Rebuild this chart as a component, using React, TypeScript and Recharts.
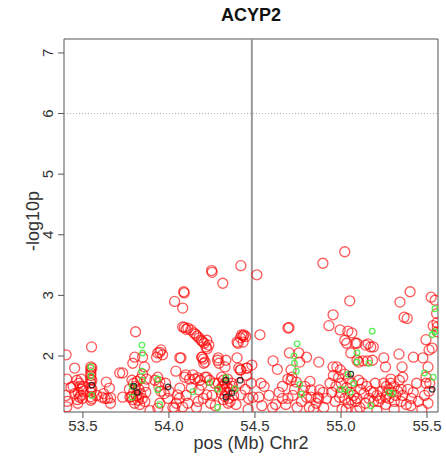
import React from 'react';
import { ScatterChart, Scatter, XAxis, YAxis, ReferenceLine, ReferenceArea } from 'recharts';

// Chr2 window around ACYP2, positions in Mb, values are -log10(p)
const xTicks = [53.5, 54.0, 54.5, 55.0, 55.5];
const yTicks = [2, 3, 4, 5, 6, 7];
const xDomain: [number, number] = [53.39, 55.564];
const yDomain: [number, number] = [1.076, 7.23];
const genePos = 54.482;
const threshold = 6;

const redPoints = [
  [54.418, 3.49], [54.511, 3.34], [54.248, 3.41], [54.251, 3.38], [54.313, 3.2], [54.086, 3.06], [54.089, 3.04],
  [54.033, 2.9], [54.08, 2.79], [55.022, 3.72], [54.895, 3.53], [55.051, 2.91], [55.402, 3.06], [55.343, 2.89],
  [55.367, 2.64], [55.385, 2.62], [55.524, 2.97], [55.547, 2.92], [55.558, 2.55], [55.56, 2.48], [54.692, 2.46],
  [54.698, 2.47], [54.954, 2.68], [54.93, 2.5], [54.995, 2.43], [55.04, 2.41], [55.063, 2.38], [55.033, 2.21],
  [55.093, 2.21], [55.158, 2.2], [55.188, 2.15], [54.529, 2.35], [54.423, 2.35], [54.446, 2.32],
  [54.08, 2.48], [54.11, 2.46], [54.128, 2.43], [54.145, 2.38], [54.163, 2.33], [54.175, 2.3], [54.187, 2.26],
  [54.205, 2.21], [54.216, 2.15], [54.222, 2.12], [54.1, 2.44], [54.155, 2.36], [54.195, 2.24], [54.09, 2.47],
  [54.396, 2.23], [54.416, 2.3], [54.431, 2.33], [53.953, 2.1], [53.935, 2.05], [53.963, 2.02], [53.947, 2.06],
  [54.07, 1.97], [54.19, 1.98], [54.202, 1.88], [54.2, 1.95], [54.286, 1.97], [54.291, 1.88], [54.396, 1.97],
  [54.406, 1.8], [54.418, 1.77], [54.453, 1.8], [54.482, 1.85], [53.55, 2.15], [53.806, 2.4], [53.402, 2.02],
  [53.452, 1.8], [53.546, 1.82], [53.546, 1.77], [53.546, 1.72], [53.546, 1.68], [53.546, 1.62], [53.546, 1.55],
  [53.546, 1.48], [53.546, 1.4], [53.546, 1.33], [53.546, 1.27], [53.552, 1.8], [53.552, 1.6], [53.552, 1.45],
  [53.552, 1.3], [53.465, 1.6], [53.477, 1.55], [53.483, 1.5], [53.492, 1.45], [53.472, 1.4], [53.487, 1.35],
  [53.497, 1.3], [53.467, 1.28], [53.502, 1.42], [53.442, 1.5], [53.452, 1.38], [53.48, 1.32], [53.406, 1.62],
  [53.402, 1.35], [53.406, 1.16], [53.636, 1.57], [53.654, 1.47], [53.61, 1.32], [53.643, 1.3], [53.661, 1.31],
  [53.628, 1.3], [53.714, 1.72], [53.731, 1.72], [53.731, 1.32], [53.773, 1.32], [53.79, 1.88], [53.801, 1.98],
  [53.847, 1.98], [53.858, 1.82], [53.847, 1.7], [53.785, 1.6], [53.795, 1.55], [53.805, 1.5], [53.815, 1.58],
  [53.825, 1.45], [53.795, 1.4], [53.81, 1.35], [53.825, 1.32], [53.835, 1.38], [53.78, 1.33], [53.79, 1.28],
  [53.82, 1.27], [53.845, 1.3], [53.855, 1.5], [53.865, 1.4], [53.835, 1.62], [53.928, 1.98], [53.935, 1.65],
  [53.947, 1.57], [53.941, 1.5], [53.918, 1.6], [54.04, 1.75], [54.063, 1.97], [54.098, 1.69], [54.139, 1.69],
  [54.169, 1.64], [54.22, 1.65], [54.175, 1.44], [54.22, 1.36], [54.063, 1.47], [54.051, 1.36], [54.033, 1.14],
  [54.08, 1.16], [53.935, 1.14], [54.22, 2.26], [54.232, 2.18], [54.193, 1.98], [54.21, 1.9], [54.283, 1.93],
  [54.331, 1.93], [54.326, 1.82], [54.402, 2.21], [54.431, 2.23], [54.436, 2.35], [54.414, 1.77], [54.453, 1.8],
  [54.306, 1.65], [54.316, 1.6], [54.326, 1.55], [54.311, 1.5], [54.321, 1.45], [54.336, 1.4], [54.306, 1.38],
  [54.326, 1.33], [54.346, 1.3], [54.316, 1.28], [54.336, 1.5], [54.356, 1.45], [54.296, 1.45], [54.286, 1.55],
  [54.366, 1.55], [54.376, 1.35], [54.356, 1.25], [54.488, 1.32], [53.953, 1.42], [53.973, 1.38], [53.993, 1.3],
  [54.092, 1.65], [54.151, 1.62], [54.12, 1.62], [54.181, 1.6], [54.21, 1.65], [54.236, 1.6], [54.266, 1.55],
  [53.947, 1.22], [54.023, 1.15], [54.043, 1.22], [54.11, 1.22], [54.17, 1.25], [54.2, 1.3], [54.241, 1.22],
  [54.344, 1.22], [54.419, 1.36], [54.463, 1.3], [54.478, 1.55], [54.443, 1.45], [54.535, 1.55], [54.553, 1.5],
  [54.523, 1.32], [54.605, 1.92], [54.63, 1.78], [54.7, 2.05], [54.755, 2.05], [54.8, 1.98], [54.871, 1.9],
  [54.76, 1.9], [54.71, 1.77], [54.715, 1.65], [54.71, 1.6], [54.692, 1.62], [54.74, 1.57], [54.78, 1.43],
  [54.8, 1.32], [54.826, 1.32], [54.866, 1.32], [54.826, 1.44], [54.876, 1.44], [54.856, 1.22], [54.816, 1.15],
  [54.745, 1.15], [54.692, 1.3], [54.72, 1.35], [54.77, 1.25], [54.66, 1.3], [54.64, 1.4], [54.62, 1.2],
  [54.582, 1.35], [54.602, 1.15], [54.954, 1.82], [54.976, 1.82], [54.996, 1.77], [54.956, 1.68], [54.986, 1.65],
  [54.936, 1.55], [54.971, 1.5], [54.946, 1.4], [54.991, 1.32], [55.001, 1.55], [55.006, 1.12], [54.916, 1.3],
  [54.966, 1.25], [54.896, 1.4], [55.022, 2.26], [55.083, 2.21], [55.143, 2.18], [55.173, 2.15], [55.057, 2.05],
  [55.093, 1.93], [55.103, 1.9], [55.128, 1.92], [55.154, 1.92], [55.183, 1.93], [55.249, 1.97], [55.337, 2.03],
  [55.421, 1.98], [55.355, 1.82], [55.359, 1.65], [55.259, 1.82], [55.022, 1.7], [55.043, 1.62], [55.063, 1.55],
  [55.033, 1.48], [55.053, 1.4], [55.073, 1.35], [55.023, 1.3], [55.093, 1.3], [55.113, 1.45], [55.133, 1.38],
  [55.163, 1.3], [55.083, 1.25], [55.143, 1.22], [55.043, 1.22], [55.173, 1.42], [55.123, 1.55], [55.103, 1.6],
  [55.249, 1.55], [55.264, 1.5], [55.279, 1.45], [55.294, 1.4], [55.269, 1.38], [55.309, 1.5], [55.289, 1.55],
  [55.259, 1.32], [55.319, 1.35], [55.329, 1.42], [55.239, 1.42], [55.279, 1.3], [55.209, 1.35], [55.219, 1.25],
  [55.359, 1.35], [55.339, 1.6], [55.349, 1.25], [55.389, 1.45], [55.409, 1.3], [55.199, 1.55], [55.189, 1.4],
  [55.093, 1.1], [55.209, 1.1], [55.309, 1.12], [55.406, 1.18], [55.494, 2.27], [55.512, 2.1], [55.53, 2.13],
  [55.476, 1.97], [55.506, 1.82], [55.494, 1.65], [55.494, 1.55], [55.516, 1.55], [55.512, 1.42], [55.506, 1.22],
  [55.536, 2.5], [55.556, 2.7], [55.559, 2.4], [55.486, 1.35],
  [53.41, 1.25], [53.43, 1.48], [53.47, 1.22], [53.5, 1.5], [53.49, 1.62], [53.58, 1.35], [53.62, 1.38],
  [53.66, 1.22], [53.77, 1.45], [53.8, 1.22], [53.83, 1.2], [53.86, 1.25], [53.89, 1.1], [53.87, 1.62],
  [53.98, 1.55], [54.0, 1.42], [54.06, 1.3], [54.1, 1.35], [54.13, 1.48], [54.16, 1.15], [54.19, 1.52],
  [54.25, 1.35], [54.27, 1.18], [54.34, 1.62], [54.37, 1.5], [54.39, 1.2], [54.41, 1.55], [54.45, 1.68],
  [54.46, 1.12], [54.54, 1.18], [54.66, 1.5], [54.68, 1.2], [54.73, 1.45], [54.79, 1.5], [54.82, 1.58],
  [54.84, 1.12], [54.87, 1.3], [54.9, 1.15], [55.0, 1.4], [55.03, 1.12], [55.06, 1.28], [55.11, 1.15],
  [55.15, 1.5], [55.19, 1.25], [55.23, 1.3], [55.26, 1.2], [55.29, 1.62], [55.31, 1.25], [55.35, 1.45],
  [55.38, 1.2], [55.42, 1.4], [55.45, 1.25], [55.44, 1.55], [55.47, 1.12],
].map(([pos, p]) => ({ pos, p }));

const greenPoints = [
  [53.546, 1.82], [53.546, 1.67], [53.552, 1.35], [53.843, 2.18], [53.847, 2.05], [53.843, 1.75], [53.845, 1.6],
  [53.786, 1.5], [53.786, 1.32], [53.935, 1.62], [53.947, 1.2], [54.139, 1.41], [53.935, 1.44], [54.236, 1.56],
  [54.331, 1.64], [54.283, 1.45], [54.384, 1.46], [54.283, 1.15], [54.745, 2.2], [54.727, 2.0], [54.73, 1.88],
  [54.74, 1.75], [54.76, 1.53], [54.77, 1.37], [55.04, 1.7], [55.023, 1.45], [55.053, 1.4], [55.073, 1.55],
  [55.182, 2.41], [55.093, 2.05], [55.093, 1.9], [55.163, 1.88], [55.546, 2.78], [55.546, 2.4], [55.53, 2.35],
  [55.536, 1.65], [55.486, 1.72], [55.173, 1.18], [55.279, 1.4], [55.299, 1.38], [54.996, 1.45],
].map(([pos, p]) => ({ pos, p }));

const blackPoints = [
  [53.552, 1.52], [53.796, 1.5], [53.816, 1.4], [53.995, 1.49], [54.331, 1.6], [54.366, 1.39], [54.331, 1.32],
  [54.414, 1.6], [55.057, 1.7], [55.53, 1.45],
].map(([pos, p]) => ({ pos, p }));

const font = '"Liberation Sans", Arial, Helvetica, sans-serif';

const XTick = (props: any) => {
  const { x, y, payload } = props;
  return (
    <text x={x} y={y} dy="0.71em" textAnchor="middle" fontSize={15} fontFamily={font} fill="#333">
      {payload.value.toFixed(1)}
    </text>
  );
};

const YTick = (props: any) => {
  const { x, y, payload } = props;
  return (
    <text x={x - 3} y={y} textAnchor="middle" fontSize={15} fontFamily={font} fill="#333"
      transform={`rotate(-90, ${x - 3}, ${y})`}>
      {payload.value}
    </text>
  );
};

const ring = (r: number, stroke: string, opacity: number) => (props: any) =>
  <circle cx={props.cx} cy={props.cy} r={r} fill="none" stroke={stroke} strokeOpacity={opacity} strokeWidth={1.3} />;

export default function App() {
  return (
    <div style={{ position: 'absolute', left: 0, top: 0, width: 446, height: 457, background: '#fff', fontFamily: font }}>
      <div style={{ position: 'absolute', left: 64, width: 374, top: 5, textAlign: 'center', fontSize: 18, fontWeight: 'bold', color: '#111' }}>
        ACYP2
      </div>
      <div style={{ position: 'absolute', left: 64, width: 374, top: 433, textAlign: 'center', fontSize: 18, lineHeight: '20px', color: '#333' }}>
        pos (Mb) Chr2
      </div>
      <div style={{ position: 'absolute', left: 33, top: 221, fontSize: 18, color: '#333', whiteSpace: 'nowrap',
        transform: 'translate(-50%, -50%) rotate(-90deg)' }}>
        -log10p
      </div>
      <ScatterChart width={446} height={457} margin={{ top: 39, right: 8, bottom: 0, left: 0 }}>
        <XAxis type="number" dataKey="pos" domain={xDomain} ticks={xTicks} allowDataOverflow
          height={45} axisLine={false} tickSize={6} tickLine={{ stroke: '#555' }} tick={<XTick />} />
        <YAxis type="number" dataKey="p" domain={yDomain} ticks={yTicks} allowDataOverflow
          width={64} axisLine={false} tickSize={6} tickLine={{ stroke: '#555' }} tick={<YTick />} />
        <ReferenceLine y={threshold} stroke="#aaa" strokeDasharray="1 2" />
        <ReferenceLine x={genePos} stroke="#999" strokeWidth={2} />
        <Scatter data={redPoints} isAnimationActive={false} shape={ring(5, '#ff0000', 0.65)} />
        <Scatter data={greenPoints} isAnimationActive={false} shape={ring(2.8, '#33ee33', 0.8)} />
        <Scatter data={blackPoints} isAnimationActive={false} shape={ring(2.8, '#222', 0.85)} />
        <ReferenceArea x1={xDomain[0]} x2={xDomain[1]} y1={yDomain[0]} y2={yDomain[1]} fill="none" stroke="#555" />
      </ScatterChart>
    </div>
  );
}
